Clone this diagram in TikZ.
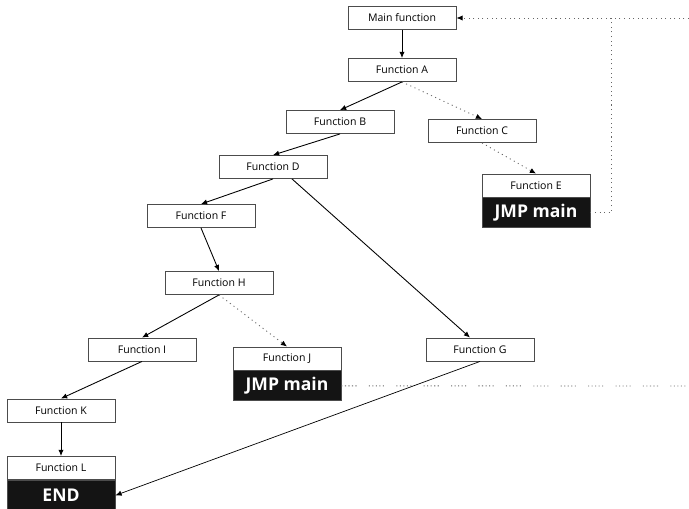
\documentclass[tikz,border=0pt]{standalone}
\usepackage{fontspec}
\setmainfont{Open Sans}
\usetikzlibrary{positioning,arrows.meta}

\begin{document}
\begin{tikzpicture}[x=0.02cm, y=-0.02cm, >={Latex[length=3.5pt,width=3pt,color=black]},
    every node/.style={font=\fontsize{6}{7}\selectfont},
    fbox/.style={draw=black!70, line width=0.5pt, fill=white, minimum width=2.16cm, minimum height=0.46cm, inner sep=0pt},
    jmpbox/.style={draw=black!70, line width=0.5pt, fill=black!92, text=white, minimum width=2.16cm, minimum height=0.6cm, inner sep=0pt, font=\fontsize{10}{12}\selectfont\bfseries},
    call/.style={->, line width=0.5pt},
    jump/.style={line width=0.5pt, black!60, dash pattern=on 0.6pt off 2pt},
    tail/.style={line width=0.5pt, black!60, dash pattern=on 0.6pt off 1.4pt on 0.6pt off 1.4pt on 0.6pt off 1.4pt on 0.6pt off 1.4pt on 0.6pt off 7pt}]
  \useasboundingbox (0,0) rectangle (689,509);

  % call tree
  \node[fbox] (main) at (402,18) {Main function};
  \node[fbox] (A) at (402,70) {Function A};
  \node[fbox] (B) at (340,122) {Function B};
  \node[fbox] (C) at (482,131) {Function C};
  \node[fbox] (D) at (273,167) {Function D};
  \node[fbox] (E) at (536,185.5) {Function E};
  \node[jmpbox, below=0pt of E] (Ejmp) {JMP main};
  \node[fbox] (F) at (201,216) {Function F};
  \node[fbox] (H) at (219,283) {Function H};
  \node[fbox] (I) at (142,349.5) {Function I};
  \node[fbox] (J) at (287,358.5) {Function J};
  \node[jmpbox, below=0pt of J] (Jjmp) {JMP main};
  \node[fbox] (G) at (480,349.5) {Function G};
  \node[fbox] (K) at (61,410.5) {Function K};
  \node[fbox] (L) at (61,468) {Function L};
  \node[jmpbox, below=0pt of L] (Ljmp) {END};

  \coordinate (corner) at (611,18);
  \coordinate (topedge) at (689,18);
  \coordinate (jedge) at (689,386);

  \draw[call] (main) -- (A);
  \draw[call] (A.south) -- (B.north);
  \draw[call, jump] (A.south) -- (C.north);
  \draw[call] (B.south) -- (D.north);
  \draw[call, jump] (C.south) -- (E.north);
  \draw[call] (D.south) -- (F.north);
  \draw[call] ([xshift=0.38cm]D.south) -- ([xshift=-0.2cm]G.north);
  \draw[call] (F.south) -- (H.north);
  \draw[call] (H.south) -- (I.north);
  \draw[call, jump] (H.south) -- (J.north);
  \draw[call] (I.south) -- (K.north);
  \draw[call] (K) -- (L);
  \draw[call, line width=0.4pt] (G.south) -- (Ljmp.east);

  % jumps back
  \draw[jump] (Ejmp.east) -| (corner);
  \draw[jump, ->] (topedge) -- (main.east);
  \draw[tail] (Jjmp.east) -- (jedge);
\end{tikzpicture}
\end{document}
